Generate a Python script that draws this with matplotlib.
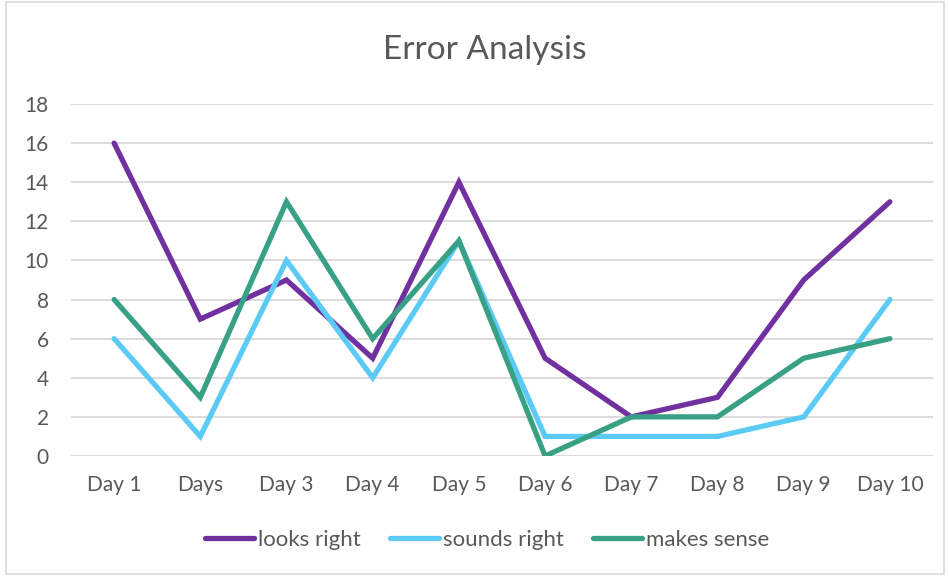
import matplotlib
matplotlib.use("Agg")
import matplotlib.pyplot as plt
from matplotlib.patches import Rectangle

categories = ["Day 1", "Days", "Day 3", "Day 4", "Day 5", "Day 6", "Day 7", "Day 8", "Day 9", "Day 10"]
looks_right = [16, 7, 9, 5, 14, 5, 2, 3, 9, 13]
sounds_right = [6, 1, 10, 4, 11, 1, 1, 1, 2, 8]
makes_sense = [8, 3, 13, 6, 11, 0, 2, 2, 5, 6]
yticks = [0, 2, 4, 6, 8, 10, 12, 14, 16, 18]

plt.rcParams['font.family'] = ['Lato', 'DejaVu Sans']
txt = '#595959'

fig = plt.figure(figsize=(9.49, 5.76), dpi=100)
ax = fig.add_axes([71/949, 120/576, (933-71)/949, (456-104)/576])

x = list(range(len(categories)))
ax.plot(x, looks_right, color='#7030A0', lw=3.8, label='looks right', solid_capstyle='round', solid_joinstyle='miter', zorder=3)
ax.plot(x, sounds_right, color='#5BCBF5', lw=3.8, label='sounds right', solid_capstyle='round', solid_joinstyle='miter', zorder=3)
ax.plot(x, makes_sense, color='#38A185', lw=3.8, label='makes sense', solid_capstyle='round', solid_joinstyle='miter', zorder=3)

ax.set_xlim(-0.5, len(categories) - 0.5)
ax.set_ylim(0, 18)
ax.set_yticks(yticks)
ax.set_xticks(x)
ax.set_xticklabels(categories)
ax.tick_params(length=0, labelsize=15, labelcolor=txt)
ax.tick_params(axis='x', pad=14)
ax.tick_params(axis='y', pad=16)
ax.grid(axis='y', color='#D9D9D9', lw=1.3)
ax.set_axisbelow(True)
for s in ax.spines.values():
    s.set_visible(False)

fig.text(485/949, 1 - 50/576, "Error Analysis", ha='center', va='center', fontsize=24, color=txt)

leg = fig.legend(loc='center', bbox_to_anchor=(487/949, 1 - 540/576), ncol=3, frameon=False,
                 fontsize=16, labelcolor=txt, handlelength=2.2, handletextpad=0.2, columnspacing=1.3)

fig.patches.append(Rectangle((6/949, 2/576), 938/949, 572/576, transform=fig.transFigure,
                             fill=False, edgecolor='#D9D9D9', lw=1.2))

fig.savefig("out.png", dpi=100)
